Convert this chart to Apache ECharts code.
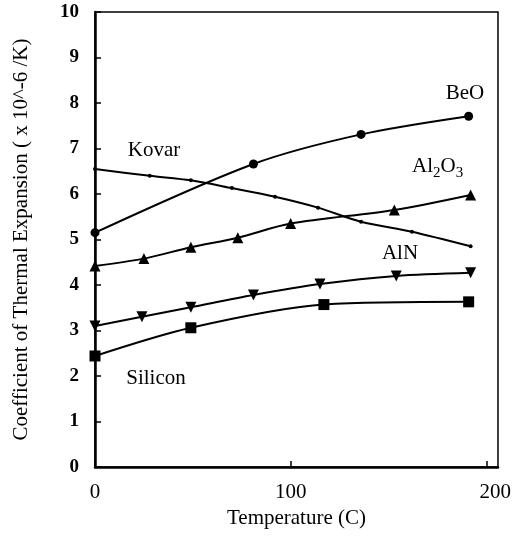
<!DOCTYPE html>
<html>
<head>
<meta charset="utf-8">
<script src="https://cdn.jsdelivr.net/npm/echarts@6/dist/echarts.min.js"></script>
<style>
html, body { margin: 0; padding: 0; background: #fff; }
#chart { width: 514px; height: 542px; }
</style>
</head>
<body>
<div id="chart"></div>
<script>
// 数据
var kovarX = [0, 28, 49, 70, 92, 114, 136, 162, 192];
var kovarY = [6.55, 6.4, 6.3, 6.13, 5.94, 5.7, 5.39, 5.17, 4.85];

var beoX = [0, 81, 136, 191];
var beoY = [5.15, 6.66, 7.31, 7.71];

var al2o3X = [0, 25, 49, 73, 100, 153, 192];
var al2o3Y = [4.42, 4.58, 4.83, 5.04, 5.35, 5.65, 5.98];

var alnX = [0, 24, 49, 81, 115, 154, 192];
var alnY = [3.1, 3.3, 3.51, 3.78, 4.02, 4.2, 4.27];

var siliconX = [0, 49, 117, 191];
var siliconY = [2.44, 3.06, 3.57, 3.63];

var xTicks = [0, 100, 200];
var yTicks = [0, 1, 2, 3, 4, 5, 6, 7, 8, 9, 10];

var FONT = 'Liberation Serif';

function pairs(xs, ys) {
	var out = [];
	for (var i = 0; i < xs.length; i++) {
		out.push([xs[i], ys[i]]);
	}
	return out;
}

function makeSeries(name, xs, ys, symbol, size, rotate) {
	return {
		name: name,
		type: 'line',
		smooth: 0.3,
		data: pairs(xs, ys),
		symbol: symbol,
		symbolSize: size,
		symbolRotate: rotate || 0,
		showAllSymbol: true,
		lineStyle: { color: '#000', width: 2 },
		itemStyle: { color: '#000', borderWidth: 0 },
		emphasis: { disabled: true },
		z: 3
	};
}

var myChart = echarts.init(document.getElementById('chart'));

var option = {
	animation: false,
	backgroundColor: '#fff',
	grid: {
		left: 95, top: 12, right: 14, bottom: 75,
		show: true, borderColor: '#000', borderWidth: 1.5
	},
	xAxis: {
		type: 'value',
		min: 0, max: 206, interval: 100,
		name: 'Temperature (C)',
		nameLocation: 'middle',
		nameGap: 38,
		nameTextStyle: { fontFamily: FONT, fontSize: 21, color: '#000' },
		axisLine: { lineStyle: { color: '#000', width: 2.5 } },
		axisTick: { inside: true, length: 6, lineStyle: { color: '#000', width: 1.5 } },
		splitLine: { show: false },
		axisLabel: {
			showMaxLabel: false,
			margin: 15,
			fontFamily: FONT, fontSize: 21, color: '#000',
			formatter: function (v) {
				if (xTicks.indexOf(v) < 0) return '';
				return v === 200 ? '{r|200}' : String(v);
			},
			rich: { r: { fontFamily: FONT, fontSize: 21, color: '#000', padding: [0, 0, 0, 18] } }
		}
	},
	yAxis: {
		type: 'value',
		min: 0, max: 10, interval: 1,
		name: 'Coefficient of Thermal Expansion ( x 10^-6 /K)',
		nameLocation: 'middle',
		nameGap: 63,
		nameTextStyle: { fontFamily: FONT, fontSize: 21, color: '#000' },
		axisLine: { lineStyle: { color: '#000', width: 2.5 } },
		axisTick: { inside: true, length: 6, lineStyle: { color: '#000', width: 1.5 } },
		splitLine: { show: false },
		axisLabel: {
			margin: 16,
			fontFamily: FONT, fontSize: 19, fontWeight: 'bold', color: '#000',
			formatter: function (v) { return yTicks.indexOf(v) < 0 ? '' : String(v); }
		}
	},
	series: [
		makeSeries('Kovar', kovarX, kovarY, 'circle', 4),
		makeSeries('BeO', beoX, beoY, 'circle', 9),
		makeSeries('Al2O3', al2o3X, al2o3Y, 'triangle', 11),
		makeSeries('AlN', alnX, alnY, 'triangle', 11, 180),
		makeSeries('Silicon', siliconX, siliconY, 'rect', 11)
	],
	graphic: [
		{ type: 'text', x: 154, y: 150, style: { text: 'Kovar', font: '21px "Liberation Serif"', fill: '#000', textAlign: 'center', textVerticalAlign: 'middle' } },
		{ type: 'text', x: 465, y: 93, style: { text: 'BeO', font: '21px "Liberation Serif"', fill: '#000', textAlign: 'center', textVerticalAlign: 'middle' } },
		{
			type: 'text', x: 412, y: 156,
			style: {
				text: '{n|Al}{s|2}{n|O}{s|3}',
				fill: '#000',
				rich: {
					n: { fontFamily: FONT, fontSize: 21, verticalAlign: 'top', padding: [0, 0, 0, 0] },
					s: { fontFamily: FONT, fontSize: 15, verticalAlign: 'top', padding: [10, 0, 0, 0] }
				}
			}
		},
		{ type: 'text', x: 400, y: 253, style: { text: 'AlN', font: '21px "Liberation Serif"', fill: '#000', textAlign: 'center', textVerticalAlign: 'middle' } },
		{ type: 'text', x: 156, y: 378, style: { text: 'Silicon', font: '21px "Liberation Serif"', fill: '#000', textAlign: 'center', textVerticalAlign: 'middle' } }
	]
};

myChart.setOption(option);
</script>
</body>
</html>
